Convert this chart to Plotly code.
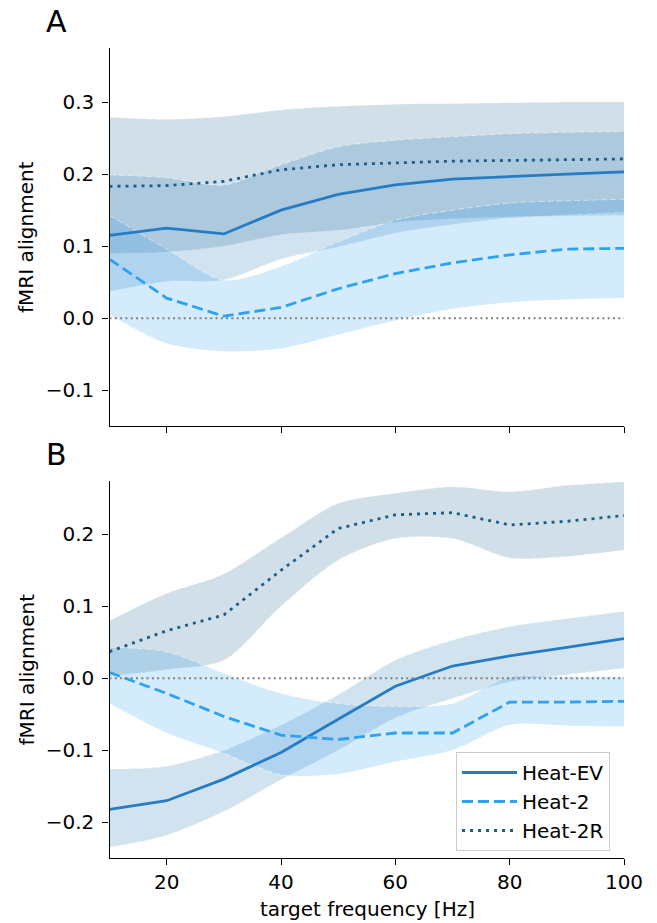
import plotly.graph_objects as go

# ---------------- data ----------------
freq = [10, 20, 30, 40, 50, 60, 70, 80, 90, 100]

# Panel A
a_ev_mean = [0.115, 0.125, 0.117, 0.150, 0.172, 0.185, 0.193, 0.197, 0.200, 0.203]
a_ev_up   = [0.199, 0.195, 0.185, 0.213, 0.238, 0.247, 0.252, 0.256, 0.258, 0.259]
a_ev_lo   = [0.037, 0.051, 0.053, 0.082, 0.099, 0.118, 0.130, 0.139, 0.143, 0.147]

a_h2_mean = [0.082, 0.028, 0.003, 0.015, 0.041, 0.062, 0.077, 0.088, 0.096, 0.097]
a_h2_up   = [0.143, 0.096, 0.053, 0.072, 0.106, 0.136, 0.150, 0.160, 0.163, 0.165]
a_h2_lo   = [0.005, -0.035, -0.046, -0.042, -0.023, -0.003, 0.013, 0.022, 0.026, 0.028]

a_2r_mean = [0.183, 0.184, 0.190, 0.206, 0.213, 0.216, 0.218, 0.219, 0.220, 0.221]
a_2r_up   = [0.279, 0.276, 0.280, 0.289, 0.294, 0.297, 0.298, 0.299, 0.300, 0.300]
a_2r_lo   = [0.090, 0.092, 0.100, 0.116, 0.122, 0.133, 0.138, 0.141, 0.142, 0.143]

# Panel B
b_ev_mean = [-0.182, -0.170, -0.140, -0.103, -0.057, -0.011, 0.017, 0.031, 0.043, 0.055]
b_ev_up   = [-0.126, -0.122, -0.100, -0.065, -0.023, 0.025, 0.053, 0.072, 0.083, 0.093]
b_ev_lo   = [-0.235, -0.218, -0.185, -0.141, -0.100, -0.055, -0.028, -0.005, 0.005, 0.014]

b_h2_mean = [0.008, -0.021, -0.053, -0.079, -0.085, -0.076, -0.076, -0.033, -0.033, -0.032]
b_h2_up   = [0.043, 0.037, 0.007, -0.021, -0.035, -0.039, -0.035, 0.002, 0.002, 0.002]
b_h2_lo   = [-0.035, -0.076, -0.104, -0.134, -0.133, -0.116, -0.100, -0.065, -0.066, -0.067]

b_2r_mean = [0.037, 0.066, 0.088, 0.150, 0.208, 0.227, 0.230, 0.213, 0.218, 0.226]
b_2r_up   = [0.080, 0.118, 0.145, 0.195, 0.243, 0.257, 0.266, 0.259, 0.268, 0.273]
b_2r_lo   = [0.003, 0.012, 0.025, 0.100, 0.164, 0.194, 0.194, 0.167, 0.169, 0.178]

series_names = ["Heat-EV", "Heat-2", "Heat-2R"]
x_ticks = [20, 40, 60, 80, 100]
a_yticks = [-0.1, 0.0, 0.1, 0.2, 0.3]
b_yticks = [-0.2, -0.1, 0.0, 0.1, 0.2]

# ---------------- styles ----------------
line_col = {"Heat-EV": "rgb(38,124,196)", "Heat-2": "rgb(44,162,242)", "Heat-2R": "rgb(26,94,142)"}
fill_col = {"Heat-EV": "rgba(31,117,182,0.2)", "Heat-2": "rgba(40,155,235,0.2)", "Heat-2R": "rgba(25,95,140,0.2)"}
dash = {"Heat-EV": "solid", "Heat-2": "11px,5px", "Heat-2R": "3px,5px"}
edge_line = dict(width=1, color="rgba(255,255,255,0.5)", dash="6px,3px", shape="spline", smoothing=0.8)
FONT = "DejaVu Sans"
FS = 20

panels = {
    "A": {"ax": ("x", "y"),
          "Heat-EV": (a_ev_mean, a_ev_lo, a_ev_up),
          "Heat-2": (a_h2_mean, a_h2_lo, a_h2_up),
          "Heat-2R": (a_2r_mean, a_2r_lo, a_2r_up)},
    "B": {"ax": ("x2", "y2"),
          "Heat-EV": (b_ev_mean, b_ev_lo, b_ev_up),
          "Heat-2": (b_h2_mean, b_h2_lo, b_h2_up),
          "Heat-2R": (b_2r_mean, b_2r_lo, b_2r_up)},
}

fig = go.Figure()
for pname, p in panels.items():
    xa, ya = p["ax"]
    # bands
    for name in ["Heat-2R", "Heat-EV", "Heat-2"]:
        mean, lo, up = p[name]
        fig.add_trace(go.Scatter(x=freq, y=lo, xaxis=xa, yaxis=ya, mode="lines",
                                 line=edge_line, showlegend=False, hoverinfo="skip"))
        fig.add_trace(go.Scatter(x=freq, y=up, xaxis=xa, yaxis=ya, mode="lines",
                                 line=edge_line, fill="tonexty", fillcolor=fill_col[name],
                                 showlegend=False, hoverinfo="skip"))
    # lines
    for name in series_names:
        mean, lo, up = p[name]
        fig.add_trace(go.Scatter(x=freq, y=mean, xaxis=xa, yaxis=ya, mode="lines",
                                 name=name, line=dict(color=line_col[name], width=2.8, dash=dash[name]),
                                 showlegend=(pname == "B")))

for yref in ["y", "y2"]:
    fig.add_hline(y=0, line=dict(color="rgb(128,128,128)", width=2, dash="2px,3.3px"),
                  xref="x" if yref == "y" else "x2", yref=yref)

W, H = 657, 923
xdom = [109.5 / W, 624 / W]
axis_common = dict(showline=True, linecolor="black", linewidth=1.3, ticks="outside",
                   ticklen=6, tickwidth=1.3, tickcolor="black", showgrid=False, zeroline=False,
                   automargin=False, tickfont=dict(family=FONT, size=FS, color="black"))

def fmt(v):
    s = f"{abs(v):.1f}"
    return ("\u2212" + s) if v < 0 else s

fig.update_layout(
    width=W, height=H, margin=dict(l=0, r=0, t=0, b=0, autoexpand=False), autosize=False,
    paper_bgcolor="white", plot_bgcolor="white",
    font=dict(family=FONT, size=FS, color="black"),
    xaxis=dict(domain=xdom, range=[10, 100], anchor="y", tickvals=x_ticks, showticklabels=False, **axis_common),
    yaxis=dict(domain=[1 - 426 / H, 1 - 48.3 / H], range=[-0.1494, 0.3745], anchor="x",
               tickvals=a_yticks, ticktext=[fmt(v) for v in a_yticks], ticklabelstandoff=4, **axis_common),
    xaxis2=dict(domain=xdom, range=[10, 100], anchor="y2", tickvals=x_ticks,
                ticktext=[str(v) for v in x_ticks], **axis_common),
    yaxis2=dict(domain=[1 - 858.3 / H, 1 - 480.7 / H], range=[-0.25, 0.2744], anchor="x2",
                tickvals=b_yticks, ticktext=[fmt(v) for v in b_yticks], ticklabelstandoff=4, **axis_common),
    legend=dict(x=456 / W, y=1 - 752 / H, xanchor="left", yanchor="top", traceorder="normal",
                bgcolor="rgba(255,255,255,0.8)", bordercolor="#cccccc", borderwidth=1,
                itemwidth=55,
                font=dict(family=FONT, size=FS, color="black"), tracegroupgap=0),
    showlegend=True,
)

annots = [
    dict(text="A", x=56.7 / W, y=1 - 21.5 / H, size=30),
    dict(text="B", x=56.7 / W, y=1 - 454.5 / H, size=30),
    dict(text="target frequency [Hz]", x=367 / W, y=1 - 909 / H, size=FS),
]
for a in annots:
    fig.add_annotation(text=a["text"], x=a["x"], y=a["y"], xref="paper", yref="paper",
                       showarrow=False, xanchor="center", yanchor="middle",
                       font=dict(family=FONT, size=a["size"], color="black"))
for yc in [237, 669.5]:
    fig.add_annotation(text="fMRI alignment", x=26 / W, y=1 - yc / H, xref="paper", yref="paper",
                       showarrow=False, textangle=-90, xanchor="center", yanchor="middle",
                       font=dict(family=FONT, size=FS, color="black"))

fig.write_html(
    "out.html",
    config={"responsive": False},
    post_script="document.documentElement.style.overflow='hidden';document.body.style.overflow='hidden';document.body.style.margin='0';",
)
